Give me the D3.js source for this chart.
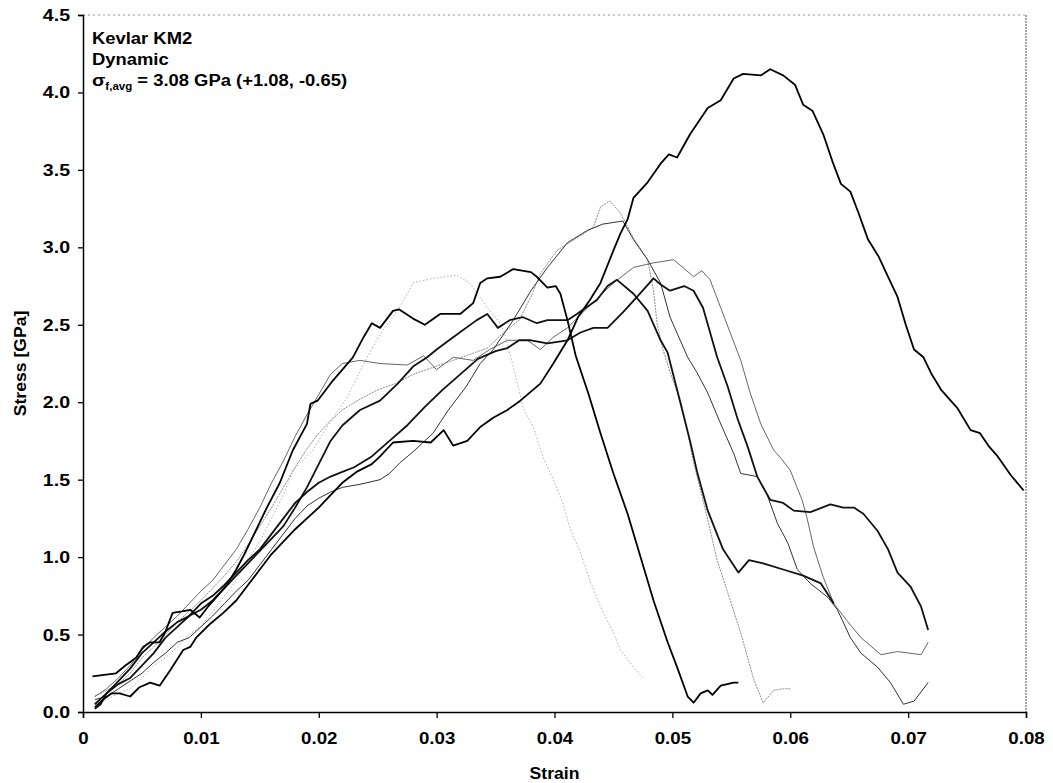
<!DOCTYPE html>
<html>
<head>
<meta charset="utf-8">
<script src="https://cdn.jsdelivr.net/npm/d3@7"></script>
<style>
  body { margin: 0; background: #fff; }
  svg text { font-family: Arial, "Liberation Sans", sans-serif; font-weight: bold; }
</style>
</head>
<body>
<div id="chart"></div>
<script>
/* Kevlar KM2 dynamic stress-strain curves */

// Tick labels
const xTicks = [0, 0.01, 0.02, 0.03, 0.04, 0.05, 0.06, 0.07, 0.08];
const yTicks = [0, 0.5, 1.0, 1.5, 2.0, 2.5, 3.0, 3.5, 4.0, 4.5];

// Annotation
const noteLines = ['Kevlar KM2', 'Dynamic'];

// Test runs: [strain, stress GPa]
const run1 = [[0.0010,0.03],[0.0017,0.08],[0.0024,0.12],[0.0031,0.12],[0.0040,0.10],[0.0048,0.16],[0.0057,0.19],[0.0065,0.17],[0.0074,0.27],[0.0085,0.40],[0.0091,0.42],[0.0096,0.48],[0.0108,0.57],[0.0119,0.64],[0.0130,0.72],[0.0140,0.82],[0.0150,0.92],[0.0160,1.02],[0.0170,1.10],[0.0180,1.18],[0.0190,1.25],[0.0200,1.32],[0.0210,1.40],[0.0220,1.48],[0.0232,1.55],[0.0245,1.60],[0.0252,1.65],[0.0263,1.74],[0.0280,1.75],[0.0295,1.74],[0.0306,1.82],[0.0314,1.72],[0.0326,1.75],[0.0337,1.84],[0.0348,1.90],[0.0360,1.95],[0.0371,2.01],[0.0388,2.12],[0.0399,2.25],[0.0411,2.40],[0.0420,2.55],[0.0430,2.66],[0.0439,2.77],[0.0450,2.98],[0.0456,3.09],[0.0462,3.18],[0.0467,3.32],[0.0479,3.42],[0.0490,3.54],[0.0497,3.60],[0.0504,3.58],[0.0515,3.73],[0.0530,3.90],[0.0541,3.95],[0.0552,4.09],[0.0560,4.12],[0.0575,4.11],[0.0583,4.15],[0.0594,4.11],[0.0604,4.05],[0.0611,3.92],[0.0619,3.88],[0.0628,3.73],[0.0636,3.55],[0.0643,3.41],[0.0651,3.36],[0.0658,3.22],[0.0666,3.05],[0.0675,2.94],[0.0683,2.81],[0.0691,2.68],[0.0698,2.50],[0.0705,2.34],[0.0713,2.29],[0.0720,2.18],[0.0728,2.08],[0.0742,1.96],[0.0753,1.82],[0.0761,1.80],[0.0768,1.72],[0.0776,1.65],[0.0787,1.53],[0.0798,1.43]];

const run2 = [[0.0008,0.23],[0.0018,0.24],[0.0028,0.25],[0.0036,0.30],[0.0045,0.35],[0.0051,0.42],[0.0057,0.45],[0.0065,0.45],[0.0070,0.52],[0.0076,0.64],[0.0084,0.65],[0.0091,0.66],[0.0099,0.61],[0.0106,0.68],[0.0113,0.74],[0.0122,0.82],[0.0130,0.92],[0.0137,1.02],[0.0144,1.13],[0.0156,1.32],[0.0167,1.48],[0.0178,1.69],[0.0190,1.86],[0.0193,1.99],[0.0199,2.01],[0.0212,2.14],[0.0229,2.29],[0.0238,2.42],[0.0245,2.51],[0.0252,2.48],[0.0263,2.59],[0.0268,2.60],[0.0280,2.54],[0.0290,2.50],[0.0303,2.57],[0.0320,2.57],[0.0331,2.64],[0.0337,2.77],[0.0343,2.80],[0.0354,2.81],[0.0365,2.86],[0.0380,2.84],[0.0385,2.81],[0.0394,2.74],[0.0401,2.75],[0.0405,2.70],[0.0411,2.53],[0.0418,2.30],[0.0429,2.05],[0.0439,1.80],[0.0450,1.54],[0.0462,1.28],[0.0473,1.00],[0.0484,0.72],[0.0496,0.45],[0.0504,0.29],[0.0513,0.10],[0.0518,0.06],[0.0524,0.12],[0.0530,0.14],[0.0534,0.11],[0.0541,0.17],[0.0552,0.19],[0.0556,0.19]];

const run3 = [[0.0010,0.05],[0.0020,0.08],[0.0030,0.12],[0.0040,0.15],[0.0050,0.22],[0.0060,0.30],[0.0070,0.35],[0.0080,0.42],[0.0090,0.50],[0.0100,0.55],[0.0110,0.65],[0.0120,0.75],[0.0130,0.85],[0.0140,0.98],[0.0150,1.10],[0.0160,1.25],[0.0170,1.40],[0.0178,1.56],[0.0195,1.69],[0.0212,1.90],[0.0224,2.03],[0.0241,2.29],[0.0252,2.44],[0.0267,2.59],[0.0280,2.77],[0.0297,2.80],[0.0317,2.82],[0.0328,2.77],[0.0343,2.61],[0.0352,2.53],[0.0357,2.46],[0.0365,2.23],[0.0374,1.95],[0.0382,1.84],[0.0390,1.65],[0.0399,1.50],[0.0407,1.35],[0.0413,1.19],[0.0422,1.03],[0.0430,0.85],[0.0439,0.68],[0.0450,0.51],[0.0456,0.40],[0.0467,0.29],[0.0475,0.22]];

const run4 = [[0.0010,0.10],[0.0020,0.14],[0.0030,0.18],[0.0040,0.25],[0.0050,0.35],[0.0060,0.42],[0.0070,0.50],[0.0080,0.58],[0.0090,0.65],[0.0100,0.72],[0.0110,0.80],[0.0120,0.88],[0.0130,0.97],[0.0140,1.08],[0.0150,1.20],[0.0160,1.32],[0.0170,1.45],[0.0180,1.58],[0.0190,1.70],[0.0200,1.80],[0.0210,1.88],[0.0220,1.95],[0.0235,2.02],[0.0250,2.08],[0.0265,2.12],[0.0280,2.18],[0.0295,2.22],[0.0310,2.26],[0.0325,2.30],[0.0343,2.35],[0.0357,2.45],[0.0370,2.53],[0.0380,2.68],[0.0388,2.83],[0.0402,2.98],[0.0419,3.06],[0.0433,3.13],[0.0439,3.26],[0.0447,3.30],[0.0456,3.22],[0.0467,3.06],[0.0479,2.92],[0.0484,2.72],[0.0487,2.51],[0.0492,2.34],[0.0500,2.15],[0.0507,2.01],[0.0513,1.80],[0.0518,1.61],[0.0524,1.43],[0.0530,1.24],[0.0538,0.98],[0.0547,0.77],[0.0558,0.51],[0.0569,0.21],[0.0577,0.06],[0.0586,0.14],[0.0594,0.15],[0.0600,0.15]];

const run5 = [[0.0010,0.08],[0.0020,0.10],[0.0030,0.15],[0.0040,0.20],[0.0050,0.25],[0.0060,0.32],[0.0070,0.38],[0.0080,0.45],[0.0090,0.48],[0.0100,0.55],[0.0110,0.62],[0.0120,0.70],[0.0130,0.78],[0.0140,0.85],[0.0150,0.95],[0.0160,1.05],[0.0170,1.15],[0.0180,1.25],[0.0190,1.33],[0.0200,1.38],[0.0210,1.42],[0.0220,1.45],[0.0235,1.47],[0.0252,1.50],[0.0260,1.54],[0.0269,1.61],[0.0280,1.68],[0.0297,1.80],[0.0310,1.95],[0.0325,2.10],[0.0337,2.25],[0.0348,2.34],[0.0365,2.53],[0.0380,2.72],[0.0394,2.87],[0.0411,3.03],[0.0428,3.11],[0.0441,3.15],[0.0458,3.17],[0.0467,3.05],[0.0479,2.92],[0.0490,2.77],[0.0498,2.55],[0.0513,2.29],[0.0521,2.19],[0.0530,2.06],[0.0541,1.86],[0.0552,1.67],[0.0558,1.54],[0.0572,1.52],[0.0580,1.41],[0.0589,1.22],[0.0598,1.09],[0.0606,0.92],[0.0617,0.83],[0.0632,0.74],[0.0640,0.66],[0.0651,0.48],[0.0660,0.38],[0.0674,0.29],[0.0685,0.19],[0.0696,0.05],[0.0705,0.07],[0.0717,0.19]];

const run6 = [[0.0010,0.05],[0.0020,0.12],[0.0030,0.18],[0.0040,0.22],[0.0050,0.30],[0.0060,0.38],[0.0070,0.48],[0.0080,0.55],[0.0090,0.62],[0.0100,0.70],[0.0110,0.75],[0.0120,0.82],[0.0130,0.90],[0.0140,0.98],[0.0150,1.05],[0.0160,1.15],[0.0170,1.25],[0.0180,1.35],[0.0190,1.42],[0.0200,1.48],[0.0210,1.52],[0.0220,1.55],[0.0230,1.58],[0.0245,1.65],[0.0260,1.75],[0.0275,1.85],[0.0290,1.97],[0.0305,2.08],[0.0320,2.18],[0.0335,2.28],[0.0350,2.33],[0.0360,2.35],[0.0370,2.40],[0.0380,2.40],[0.0394,2.38],[0.0411,2.40],[0.0422,2.45],[0.0433,2.48],[0.0445,2.48],[0.0458,2.58],[0.0470,2.68],[0.0484,2.80],[0.0490,2.76],[0.0498,2.72],[0.0510,2.75],[0.0518,2.72],[0.0526,2.61],[0.0538,2.29],[0.0547,2.10],[0.0555,1.90],[0.0564,1.71],[0.0572,1.52],[0.0580,1.41],[0.0583,1.37],[0.0594,1.35],[0.0603,1.30],[0.0617,1.29],[0.0634,1.34],[0.0645,1.32],[0.0654,1.32],[0.0662,1.28],[0.0674,1.17],[0.0683,1.05],[0.0691,0.90],[0.0702,0.81],[0.0711,0.68],[0.0717,0.53]];

const run7 = [[0.0010,0.02],[0.0015,0.05],[0.0020,0.12],[0.0030,0.20],[0.0040,0.28],[0.0050,0.38],[0.0060,0.45],[0.0070,0.52],[0.0080,0.58],[0.0090,0.62],[0.0100,0.66],[0.0110,0.72],[0.0120,0.80],[0.0130,0.88],[0.0140,0.96],[0.0150,1.04],[0.0160,1.12],[0.0170,1.20],[0.0180,1.32],[0.0190,1.45],[0.0200,1.60],[0.0210,1.75],[0.0220,1.85],[0.0235,1.95],[0.0252,2.01],[0.0267,2.12],[0.0280,2.23],[0.0292,2.29],[0.0300,2.34],[0.0314,2.42],[0.0334,2.53],[0.0343,2.57],[0.0352,2.48],[0.0362,2.53],[0.0373,2.55],[0.0385,2.51],[0.0394,2.53],[0.0411,2.53],[0.0419,2.57],[0.0436,2.66],[0.0445,2.75],[0.0453,2.79],[0.0467,2.70],[0.0479,2.59],[0.0490,2.40],[0.0496,2.32],[0.0504,2.08],[0.0515,1.75],[0.0521,1.55],[0.0530,1.30],[0.0543,1.05],[0.0556,0.90],[0.0565,0.98],[0.0577,0.96],[0.0594,0.92],[0.0611,0.88],[0.0626,0.83],[0.0637,0.70]];

const run8 = [[0.0010,0.10],[0.0020,0.15],[0.0030,0.22],[0.0040,0.30],[0.0050,0.40],[0.0060,0.48],[0.0070,0.55],[0.0080,0.62],[0.0090,0.70],[0.0100,0.78],[0.0110,0.85],[0.0120,0.95],[0.0130,1.05],[0.0140,1.18],[0.0150,1.32],[0.0160,1.48],[0.0170,1.62],[0.0180,1.78],[0.0190,1.92],[0.0200,2.05],[0.0210,2.18],[0.0220,2.25],[0.0235,2.27],[0.0252,2.25],[0.0275,2.24],[0.0289,2.30],[0.0300,2.21],[0.0314,2.29],[0.0331,2.27],[0.0345,2.34],[0.0360,2.40],[0.0377,2.40],[0.0388,2.34],[0.0399,2.42],[0.0411,2.48],[0.0428,2.61],[0.0450,2.77],[0.0467,2.87],[0.0484,2.90],[0.0501,2.92],[0.0509,2.87],[0.0518,2.81],[0.0525,2.85],[0.0532,2.79],[0.0541,2.61],[0.0549,2.45],[0.0558,2.27],[0.0566,2.06],[0.0575,1.86],[0.0586,1.69],[0.0592,1.64],[0.0600,1.56],[0.0610,1.37],[0.0614,1.26],[0.0620,1.06],[0.0628,0.87],[0.0637,0.70],[0.0648,0.59],[0.0660,0.48],[0.0677,0.37],[0.0691,0.39],[0.0711,0.37],[0.0717,0.45]];

// Widen glyphs a little, the source font is set wider than Arial
function stretch(sel, k) {
  sel.each(function() {
    const len = this.getComputedTextLength();
    d3.select(this)
      .attr('textLength', len * k)
      .attr('lengthAdjust', 'spacingAndGlyphs');
  });
}

function initChart() {
  const width = 1053;
  const height = 783;
  const margin = { top: 15, right: 27, bottom: 71, left: 83 };
  const innerWidth = width - margin.left - margin.right;
  const innerHeight = height - margin.top - margin.bottom;

  const svg = d3.select('#chart')
    .append('svg')
    .attr('width', width)
    .attr('height', height);

  const g = svg.append('g')
    .attr('transform', `translate(${margin.left},${margin.top})`);

  // Scales
  const x = d3.scaleLinear().domain([0, 0.08]).range([0, innerWidth]);
  const y = d3.scaleLinear().domain([0, 4.5]).range([innerHeight, 0]);

  // Dotted frame on top and right
  g.append('line')
    .attr('x1', 0).attr('x2', innerWidth)
    .attr('y1', 0).attr('y2', 0)
    .attr('stroke', '#999').attr('stroke-width', 1)
    .attr('stroke-dasharray', '2,3');
  g.append('line')
    .attr('x1', innerWidth).attr('x2', innerWidth)
    .attr('y1', 0).attr('y2', innerHeight)
    .attr('stroke', '#888').attr('stroke-width', 1.5)
    .attr('stroke-dasharray', '2,1');

  // Curves
  const runs = [
    { data: run3, color: '#b0b0b0', width: 1, dash: '1.5,2' },
    { data: run4, color: '#8a8a8a', width: 1, dash: '2,1' },
    { data: run8, color: '#666', width: 1, dash: null },
    { data: run5, color: '#333', width: 1, dash: null },
    { data: run6, color: '#111', width: 1.8, dash: null },
    { data: run7, color: '#111', width: 1.8, dash: null },
    { data: run2, color: '#000', width: 1.8, dash: null },
    { data: run1, color: '#000', width: 1.8, dash: null }
  ];

  const line = d3.line()
    .x(d => x(d[0]))
    .y(d => y(d[1]));

  g.selectAll('.run')
    .data(runs)
    .enter()
    .append('path')
    .attr('class', 'run')
    .attr('d', d => line(d.data))
    .attr('fill', 'none')
    .attr('stroke', d => d.color)
    .attr('stroke-width', d => d.width)
    .attr('stroke-linejoin', 'round')
    .attr('stroke-dasharray', d => d.dash);

  // X Axis
  const xAxis = g.append('g')
    .attr('transform', `translate(0,${innerHeight})`)
    .call(d3.axisBottom(x)
      .tickValues(xTicks)
      .tickSize(6)
      .tickPadding(14)
      .tickFormat(d => d === 0 ? '0' : d3.format('.2f')(d)));

  xAxis.selectAll('text')
    .attr('fill', '#000')
    .attr('font-size', '17px')
    .call(stretch, 1.1);
  xAxis.selectAll('line').attr('stroke', '#000').attr('stroke-width', 1.3);
  xAxis.select('.domain').attr('stroke', '#000').attr('stroke-width', 1.5);

  // Y Axis
  const yAxis = g.append('g')
    .call(d3.axisLeft(y)
      .tickValues(yTicks)
      .tickSize(5)
      .tickPadding(8)
      .tickFormat(d3.format('.1f')));

  yAxis.selectAll('text')
    .attr('fill', '#000')
    .attr('font-size', '17px')
    .call(stretch, 1.15);
  yAxis.selectAll('line').attr('stroke', '#000').attr('stroke-width', 1.3);
  yAxis.select('.domain').attr('stroke', '#000').attr('stroke-width', 1.5);

  // Axis titles
  svg.append('text')
    .attr('x', margin.left + innerWidth / 2)
    .attr('y', 779)
    .attr('text-anchor', 'middle')
    .attr('font-size', '16px')
    .text('Strain')
    .call(stretch, 1.1);

  svg.append('text')
    .attr('transform', `translate(26,${margin.top + innerHeight / 2}) rotate(-90)`)
    .attr('text-anchor', 'middle')
    .attr('font-size', '16px')
    .text('Stress [GPa]')
    .call(stretch, 1.1);

  // Annotation
  noteLines.forEach((t, i) => {
    svg.append('text')
      .attr('x', 92)
      .attr('y', 44 + i * 21)
      .attr('font-size', '16px')
      .text(t)
      .call(stretch, 1.15);
  });

  const sig = svg.append('text')
    .attr('x', 92)
    .attr('y', 86)
    .attr('font-size', '16px');
  sig.append('tspan').attr('font-size', '17px').text('σ');
  sig.append('tspan').attr('font-size', '10px').attr('dy', 4).text('f,avg');
  sig.append('tspan').attr('dy', -4).text(' = 3.08 GPa (+1.08, -0.65)');
  sig.call(stretch, 1.15);
}

initChart();
</script>
</body>
</html>
